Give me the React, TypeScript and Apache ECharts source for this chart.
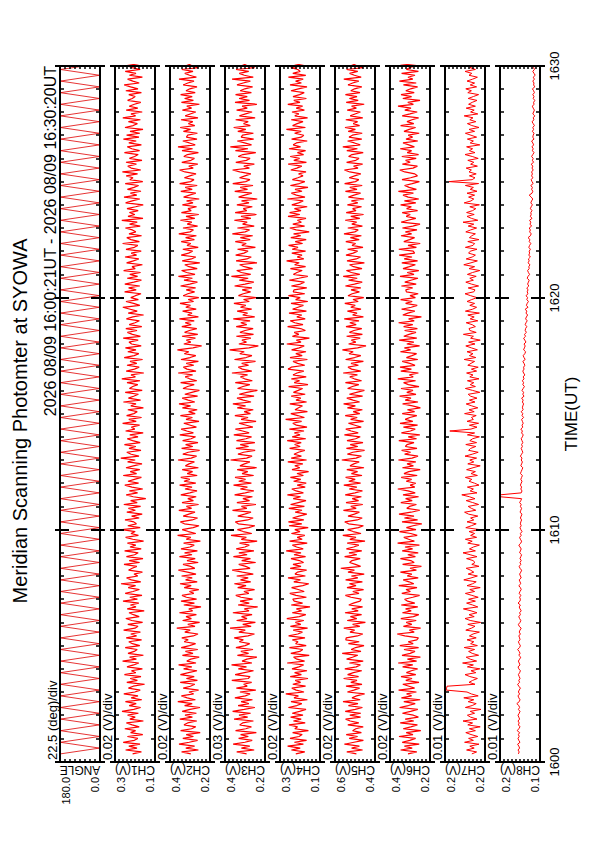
import React, { useEffect, useRef } from "react";
import * as echarts from "echarts";

const TITLE = "Meridian Scanning Photomter at SYOWA";
const PERIOD_TEXT = "2026 08/09 16:00:21UT - 2026 08/09 16:30:20UT";
const TIME_AXIS_NAME = "TIME(UT)";
const TIME_TICKS = [0, 10, 20, 30];
const TIME_LABELS = ["1600", "1610", "1620", "1630"];

const PANEL_NAMES = ["ANGLE", "CH1(V)", "CH2(V)", "CH3(V)", "CH4(V)", "CH5(V)", "CH6(V)", "CH7(V)", "CH8(V)"];
const DIV_TEXT = ["22.5 (deg)/div", "0.02 (V)/div", "0.02 (V)/div", "0.03 (V)/div", "0.02 (V)/div", "0.02 (V)/div", "0.02 (V)/div", "0.01 (V)/div", "0.01 (V)/div"];
const PANEL_MIN = [0, 100, 200, 150, 100, 400, 200, 150, 100];
const PANEL_MAX = [180, 300, 400, 450, 300, 600, 400, 250, 200];
const PANEL_DIV = [22.5, 20, 20, 30, 20, 20, 20, 10, 10];
const TOP_LABELS = ["180.0", "0.3", "0.4", "0.4", "0.3", "0.6", "0.4", "0.2", "0.2"];
const BOTTOM_LABELS = ["0.0", "0.1", "0.2", "0.2", "0.1", "0.4", "0.2", "0.2", "0.1"];

// scan angle (deg), one sample every 15 s from 16:00:21
const ANGLE_START_SEC = 21;
const ANGLE_STEP_SEC = 15;
const angleDeg = [
  178, 2, 178, 2, 178, 2, 178, 2, 178, 2, 178, 2, 178, 2, 178, 2, 178, 2, 178, 2,
  178, 2, 178, 2, 178, 2, 178, 2, 178, 2, 178, 2, 178, 2, 178, 2, 178, 2, 178, 2,
  178, 2, 178, 2, 178, 2, 178, 2, 178, 2, 178, 2, 178, 2, 178, 2, 178, 2, 178, 2,
  178, 2, 178, 2, 178, 2, 178, 2, 178, 2, 178, 2, 178, 2, 178, 2, 178, 2, 178, 2,
  178, 2, 178, 2, 178, 2, 178, 2, 178, 2, 178, 2, 178, 2, 178, 2, 178, 2, 178, 2,
  178, 2, 178, 2, 178, 2, 178, 2, 178, 2, 178, 2, 178, 2, 178, 2, 178, 2, 178, 2,
];

// channel voltages (mV), one sample every 5 s from 16:00:21
const CH_START_SEC = 21;
const CH_STEP_SEC = 5;
const ch1mV = [
  212,168,247,190,231,175,259,203,186,238,161,222,197,251,179,214,243,158,226,199,
  237,183,265,206,172,229,194,248,166,219,185,256,201,174,233,209,152,241,188,224,
  170,253,196,218,163,240,207,181,262,193,227,158,235,204,189,249,176,213,231,167,
  244,192,221,173,257,200,185,236,162,216,246,179,208,230,154,239,195,223,181,260,
  188,226,165,249,210,178,234,197,270,171,218,242,186,205,163,232,214,191,255,177,
  229,160,243,202,184,252,169,225,196,238,157,211,247,183,220,199,264,174,236,193,
  206,250,179,217,164,241,198,233,172,256,189,222,146,209,244,187,228,161,215,251,
  182,235,203,168,259,192,224,176,245,208,165,237,199,271,180,219,241,170,230,196,
  253,174,212,239,185,226,159,247,201,218,177,262,194,231,167,242,206,189,236,158,
  221,195,258,172,233,207,183,249,164,228,211,186,240,175,266,198,220,156,244,203,
  179,240,191,225,162,254,204,181,236,195,248,169,217,230,184,259,173,213,238,190,
  246,166,229,200,178,243,211,157,234,189,224,261,176,207,245,183,221,198,170,252,
  194,232,176,251,206,168,239,187,226,172,257,199,215,163,242,208,181,250,192,219,
  169,245,203,186,262,178,220,241,167,230,196,213,248,174,227,189,266,160,235,201,
  228,184,240,197,159,247,214,176,255,191,223,170,238,205,182,249,161,226,210,244,
  187,263,171,219,236,193,245,165,228,202,184,253,177,216,239,168,231,194,258,180,
  242,176,225,160,250,209,188,233,173,261,197,220,164,244,186,229,203,171,237,214,
  199,231,168,246,185,222,254,179,211,237,163,228,195,249,174,215,240,182,226,205,
];
const ch2mV = [
  296,342,258,321,277,355,304,262,336,283,319,249,347,292,271,330,312,266,351,288,
  325,268,339,300,250,327,289,361,273,314,343,282,305,257,334,298,276,349,263,318,
  279,348,307,265,332,291,357,270,316,296,254,338,285,323,261,344,302,272,329,309,
  341,284,260,326,299,366,275,311,252,337,293,320,268,353,287,306,245,331,278,345,
  267,318,340,281,303,256,329,294,350,264,322,289,342,270,313,358,276,297,335,259,
  315,274,353,290,327,263,345,300,279,332,248,319,296,362,271,308,339,284,255,328,
  348,289,262,334,306,275,356,292,318,257,340,283,311,269,346,301,265,325,290,352,
  271,330,301,346,264,314,287,339,258,323,305,278,360,294,267,336,309,252,342,286,
  322,260,337,295,272,351,283,316,344,268,298,331,255,320,288,348,274,307,264,338,
  297,355,276,309,339,262,326,291,253,335,312,279,347,266,302,324,287,359,270,315,
  333,281,319,258,345,299,271,328,306,363,285,242,331,296,318,273,340,261,327,303,
  266,341,294,324,279,353,258,312,290,337,269,321,298,350,282,309,256,334,311,277,
  319,272,347,301,263,330,288,358,275,317,342,264,305,326,251,339,293,271,344,307,
  287,336,259,315,296,344,278,322,268,356,300,283,335,262,314,291,348,276,320,256,
  343,294,310,267,338,285,317,254,332,303,271,346,289,324,264,352,297,280,328,301,
  270,325,352,284,306,261,341,295,278,331,313,258,340,287,360,274,303,336,265,318,
  312,263,333,297,349,276,308,286,345,260,324,299,271,338,292,316,253,343,283,327,
  289,347,274,320,301,265,334,311,280,355,268,302,326,285,341,259,317,294,336,275,
];
const ch3mV = [
  288,362,231,327,264,389,301,246,348,275,333,215,371,294,252,340,318,237,382,280,
  345,258,393,306,226,352,271,329,244,376,297,262,338,219,365,283,310,250,399,276,
  262,374,305,236,350,289,401,248,322,286,211,357,273,331,240,368,299,265,343,312,
  381,278,229,346,298,412,254,317,222,363,285,326,247,391,270,305,205,352,268,337,
  243,330,369,271,308,228,355,292,380,257,334,276,362,238,319,396,262,295,347,220,
  325,259,387,284,346,233,366,301,268,341,209,328,290,405,249,313,357,272,226,350,
  372,280,239,354,303,255,394,286,327,218,361,266,316,244,378,298,234,335,282,386,
  252,347,296,375,235,322,279,359,212,338,304,263,408,288,247,353,311,224,368,273,
  336,226,364,293,251,384,269,318,372,241,290,345,217,329,277,376,259,306,238,358,
  296,391,255,312,360,232,343,287,207,356,315,264,373,245,303,334,281,398,249,320,
  350,273,325,221,379,292,248,339,306,415,270,200,346,289,323,256,365,236,338,299,
  239,366,287,332,262,388,227,317,281,359,250,334,294,383,268,311,216,349,313,258,
  321,248,378,300,234,343,276,402,257,327,362,243,305,340,210,367,286,253,370,308,
  277,356,222,324,291,373,261,335,242,395,299,266,357,231,318,284,380,256,330,214,
  374,287,313,245,361,270,326,208,348,302,249,377,281,336,240,392,295,263,341,300,
  256,339,393,267,309,230,369,290,262,351,316,219,372,278,410,251,303,358,235,329,
  318,237,354,294,385,260,311,276,370,224,342,296,247,363,283,322,211,375,266,344,
  283,371,252,336,301,243,360,314,260,397,238,305,343,272,367,228,321,289,355,259,
];
const ch4mV = [
  221,176,243,199,262,183,228,167,250,205,189,237,158,226,212,255,174,233,194,247,
  185,239,202,170,258,216,191,245,163,230,208,271,180,219,241,172,236,197,224,160,
  249,193,227,165,240,206,182,264,177,215,232,154,246,201,186,253,169,222,210,238,
  175,257,211,188,234,162,248,196,223,181,266,204,171,239,192,218,150,244,187,229,
  236,168,220,251,179,209,242,186,156,231,198,260,173,225,213,167,249,195,235,182,
  203,245,172,230,195,269,184,217,238,164,252,189,214,176,243,200,226,159,255,191,
  258,181,237,205,166,224,190,256,178,247,209,170,234,197,263,183,219,241,174,214,
  169,232,196,248,183,215,157,240,201,226,186,261,167,244,193,230,208,176,252,199,
  227,194,264,171,239,200,228,180,253,165,218,236,192,272,178,211,246,163,225,207,
  188,251,167,220,196,244,174,233,209,187,257,160,229,202,243,169,235,215,181,260,
  244,176,212,235,163,250,189,221,170,242,204,179,266,195,218,153,238,206,229,173,
  197,262,185,226,249,174,216,191,255,168,237,210,183,245,161,222,199,258,176,234,
  230,166,243,198,178,253,206,161,233,215,189,248,172,227,204,267,181,214,190,241,
  172,239,210,257,187,224,169,246,196,232,154,219,251,177,236,193,213,170,260,201,
  252,195,228,164,241,207,184,263,175,218,243,190,225,160,248,203,176,238,211,185,
  207,170,246,216,191,259,168,231,202,249,182,213,172,255,197,234,218,164,242,194,
  181,227,194,268,173,237,214,185,244,162,226,206,240,178,219,187,261,200,231,168,
  235,202,179,245,208,165,250,193,222,184,258,171,236,199,211,246,180,227,189,216,
];
const ch5mV = [
  493,541,462,517,478,553,505,458,529,487,544,468,512,496,459,536,481,524,547,472,
  526,471,549,499,463,533,485,560,474,515,492,452,538,506,477,545,465,521,490,557,
  482,537,508,466,551,494,473,528,459,542,513,486,564,470,519,497,455,533,479,546,
  544,488,461,525,502,556,476,512,448,539,491,523,467,550,484,516,462,531,508,475,
  469,520,548,480,511,457,540,495,528,463,547,486,518,454,535,503,571,472,498,527,
  515,474,552,491,530,466,543,507,481,539,450,526,495,561,470,509,537,483,458,532,
  551,489,464,535,503,478,558,494,521,461,545,482,514,468,549,500,463,529,491,556,
  472,531,499,547,465,518,487,541,455,525,506,479,566,495,468,538,511,452,543,486,
  524,460,540,497,474,553,484,519,546,469,500,533,457,522,489,549,476,509,463,538,
  498,557,477,510,541,462,528,492,453,537,513,481,548,467,504,526,488,559,471,517,
  535,483,520,458,547,502,471,530,509,563,487,445,532,496,518,474,542,463,528,505,
  466,545,494,526,480,554,458,512,490,538,470,521,499,551,484,510,456,535,514,478,
  520,471,548,503,464,532,489,559,476,518,543,465,507,527,453,540,494,472,545,509,
  487,537,460,515,497,546,479,523,468,555,501,484,536,463,516,492,549,476,521,457,
  544,495,512,467,538,486,518,455,533,505,472,548,490,526,464,552,498,481,529,502,
  471,526,553,485,507,462,542,496,480,532,515,459,541,488,561,474,503,537,466,530,
  513,464,534,498,550,477,509,487,546,461,524,500,473,539,493,517,454,544,484,528,
  490,548,475,521,502,466,535,512,481,556,469,503,527,486,542,460,518,495,537,476,
];
const ch6mV = [
  310,266,347,289,328,254,339,301,272,355,285,319,246,334,296,263,349,281,324,258,
  283,338,297,261,352,308,274,331,249,343,292,317,268,357,277,305,336,255,321,290,
  345,271,318,293,262,337,286,359,267,313,248,340,299,275,330,257,351,284,309,266,
  258,326,364,279,303,247,333,291,319,269,346,283,256,338,294,322,261,344,276,312,
  327,286,252,341,298,320,265,356,281,305,334,259,314,291,348,268,300,243,337,279,
  296,348,273,311,259,339,287,325,253,362,278,307,331,264,296,353,270,318,285,241,
  340,262,328,280,355,295,251,316,302,268,346,289,322,257,335,274,310,361,276,299,
  271,319,292,344,264,330,306,249,338,283,315,271,358,290,260,327,297,342,265,323,
  315,280,356,267,309,251,343,298,274,333,262,350,286,324,301,266,339,277,313,248,
  288,337,260,324,295,352,270,316,285,345,255,308,332,272,361,284,303,258,346,293,
  350,275,301,339,261,318,290,267,348,297,328,252,316,281,354,266,331,305,270,327,
  263,332,286,357,279,307,243,336,311,276,342,294,264,322,289,347,273,300,259,318,
  321,287,343,269,326,296,260,350,280,314,256,335,303,273,341,262,329,290,354,277,
  284,356,268,310,249,331,302,277,345,292,323,265,338,286,250,344,311,271,319,299,
  339,262,317,293,347,271,328,256,309,335,283,358,268,304,327,289,253,340,297,263,
  276,326,351,285,263,338,299,322,269,341,257,314,292,349,278,306,335,261,320,287,
  309,254,330,304,272,347,281,315,290,257,339,300,264,326,295,360,283,311,250,336,
  292,345,279,321,297,262,333,269,353,286,310,275,342,258,318,301,267,348,282,314,
];
const ch7mV = [
  183,171,196,177,188,165,201,179,191,168,185,198,174,189,162,193,181,205,170,186,
  194,176,187,160,199,182,172,192,178,203,167,184,195,247,246,245,175,190,181,169,
  188,200,173,185,163,194,179,206,171,187,197,166,182,191,176,202,169,186,178,195,
  172,189,180,164,198,184,175,193,161,187,200,177,190,170,185,204,168,181,196,174,
  191,167,183,199,176,188,162,195,181,172,203,185,169,192,178,186,197,165,183,175,
  180,196,170,187,205,174,189,179,164,193,182,199,171,186,176,190,163,198,184,172,
  195,178,186,168,191,201,173,184,192,166,181,197,175,189,208,170,187,179,194,165,
  176,190,183,199,169,185,174,196,180,162,193,178,188,171,200,182,167,191,186,173,
  198,171,188,181,164,194,176,238,185,170,189,166,195,179,184,172,201,177,190,168,
  183,197,175,189,170,186,192,163,181,199,174,187,178,194,165,188,180,196,171,184,
  167,193,185,176,202,173,189,180,195,169,184,198,175,191,162,186,179,204,172,188,
  190,174,182,197,168,187,177,193,164,199,181,171,188,176,195,183,170,186,200,178,
  175,192,166,184,198,179,188,172,194,181,163,190,176,203,185,169,197,182,174,191,
  187,170,199,180,176,193,165,189,183,174,198,186,171,192,178,205,168,184,195,177,
  196,181,173,188,164,202,185,178,191,176,195,170,187,179,199,166,240,182,175,189,
  172,190,184,197,169,186,178,193,167,182,200,175,189,181,196,163,187,179,194,171,
  185,199,176,190,165,183,194,173,188,180,202,168,186,177,197,174,191,182,170,192,
  179,166,193,184,198,171,187,176,195,181,169,190,183,200,174,188,177,194,182,186,
];
const ch8mV = [
  154,152,155,151,153,156,150,153,155,152,154,151,157,153,150,154,152,155,151,153,
  155,152,150,154,151,153,158,152,150,153,155,151,154,152,149,153,156,151,153,150,
  152,154,151,149,153,155,150,152,154,151,148,153,150,152,156,151,149,152,154,150,
  151,153,149,152,150,147,152,154,150,148,151,153,149,151,147,150,152,149,155,150,
  149,151,148,152,150,147,149,153,148,150,152,147,149,151,148,146,150,152,148,150,
  147,150,148,146,151,149,147,150,153,148,146,149,151,147,149,145,148,150,147,149,
  148,146,149,147,145,150,148,146,149,147,151,148,146,200,199,147,145,148,146,149,
  147,145,148,146,144,149,147,145,143,148,146,144,147,145,149,146,143,145,147,144,
  146,143,145,147,144,142,146,144,148,143,145,142,144,146,141,145,143,147,142,144,
  143,141,144,142,146,140,143,141,145,142,139,143,141,144,140,142,138,141,143,140,
  141,138,140,143,137,140,142,138,136,141,139,137,140,135,138,141,136,139,134,137,
  136,133,137,135,132,136,134,131,135,133,137,130,134,132,129,133,131,135,130,132,
  130,133,128,131,129,127,132,130,126,129,131,127,128,125,130,127,129,124,128,126,
  127,124,128,126,123,127,125,130,124,122,126,124,127,121,125,123,126,120,124,122,
  123,120,124,122,119,123,121,118,122,127,120,118,121,119,123,117,120,122,118,121,
  119,121,117,120,118,122,116,119,117,121,118,115,119,117,120,116,118,121,115,118,
  117,115,119,116,118,114,117,120,115,117,113,118,116,114,117,119,115,116,113,117,
  115,118,114,116,119,113,116,115,118,114,117,112,115,118,114,116,113,117,115,116,
];

const CHANNELS = [ch1mV, ch2mV, ch3mV, ch4mV, ch5mV, ch6mV, ch7mV, ch8mV];

const FONT = "'Liberation Sans', Arial, Helvetica, sans-serif";
const RED = "#ff0000";

// layout (landscape frame, rotated onto the portrait page)
const PLOT_LEFT = 80;
const PLOT_WIDTH = 696;
const PANEL_TOP0 = 60;
const PANEL_STEP = 55;
const PANEL_H = 40;

function buildOption() {
  const n = PANEL_NAMES.length;
  const grids: any[] = [];
  const xAxes: any[] = [];
  const yAxes: any[] = [];
  const series: any[] = [];
  const graphics: any[] = [];

  for (let k = 0; k < n; k++) {
    const top = PANEL_TOP0 + PANEL_STEP * k;
    grids.push({
      left: PLOT_LEFT,
      top,
      width: PLOT_WIDTH,
      height: PANEL_H,
      show: true,
      borderColor: "#000",
      borderWidth: 2,
      backgroundColor: "transparent",
      z: 3,
    });
    const isLast = k === n - 1;
    const baseX = {
      gridIndex: k,
      type: "value",
      min: 0,
      max: 30,
      interval: 10,
      axisLine: { show: false, onZero: false },
      splitLine: { show: false },
      z: 4,
    };
    xAxes.push({
      ...baseX,
      position: "bottom",
      axisTick: { show: true, inside: true, length: 9, lineStyle: { color: "#000", width: 2 } },
      minorTick: { show: true, splitNumber: 10, length: 4, lineStyle: { color: "#000", width: 1.5 } },
      axisLabel: {
        show: isLast,
        margin: 8,
        fontSize: 13,
        fontFamily: FONT,
        color: "#000",
        formatter: (v: number) => {
          const i = TIME_TICKS.indexOf(Math.round(v));
          return i >= 0 ? TIME_LABELS[i] : "";
        },
      },
      name: isLast ? TIME_AXIS_NAME : "",
      nameLocation: "middle",
      nameGap: 23,
      nameMoveOverlap: false,
      nameTextStyle: { fontSize: 17, fontFamily: FONT, color: "#000" },
    });
    xAxes.push({
      ...baseX,
      position: "top",
      axisTick: { show: true, inside: true, length: 9, lineStyle: { color: "#000", width: 2 } },
      minorTick: { show: true, splitNumber: 10, length: 4, lineStyle: { color: "#000", width: 1.5 } },
      axisLabel: { show: false },
    });
    xAxes.push({
      ...baseX,
      position: "bottom",
      axisTick: { show: true, inside: false, length: 5, lineStyle: { color: "#000", width: 2 } },
      minorTick: { show: false },
      axisLabel: { show: false },
    });
    xAxes.push({
      ...baseX,
      position: "top",
      axisTick: { show: true, inside: false, length: 5, lineStyle: { color: "#000", width: 2 } },
      minorTick: { show: false },
      axisLabel: { show: false },
    });

    const mn = PANEL_MIN[k];
    const mx = PANEL_MAX[k];
    for (const pos of ["left", "right"]) {
      yAxes.push({
        gridIndex: k,
        type: "value",
        min: mn,
        max: mx,
        interval: PANEL_DIV[k],
        position: pos,
        axisLine: { show: false, onZero: false },
        splitLine: { show: false },
        axisTick: { show: true, inside: true, length: 3, lineStyle: { color: "#000", width: 1.5 } },
        axisLabel: { show: false },
        z: 4,
      });
    }

    let data: number[][];
    if (k === 0) {
      data = angleDeg.map((v, i) => [(ANGLE_START_SEC + ANGLE_STEP_SEC * i) / 60, v]);
    } else {
      data = CHANNELS[k - 1].map((v, i) => [(CH_START_SEC + CH_STEP_SEC * i) / 60, v]);
    }
    series.push({
      type: "line",
      xAxisIndex: k * 4,
      yAxisIndex: k * 2,
      data,
      symbol: "none",
      showSymbol: false,
      clip: true,
      silent: true,
      lineStyle: { color: k === 0 ? "#e00000" : RED, width: k === 0 ? 0.8 : k >= 7 ? 1 : 1.2 },
      z: 2,
    });

    graphics.push({
      type: "text",
      x: PLOT_LEFT + 2,
      y: top - 1,
      style: { text: DIV_TEXT[k], fontSize: 13, fontFamily: FONT, fill: "#000", align: "left", verticalAlign: "bottom" },
    });
    graphics.push({
      type: "text",
      x: PLOT_LEFT - 15,
      y: top,
      style: { text: TOP_LABELS[k], fontSize: 11, fontFamily: FONT, fill: "#000", align: "right", verticalAlign: "top" },
    });
    graphics.push({
      type: "text",
      x: PLOT_LEFT - 15,
      y: top + PANEL_H,
      style: { text: BOTTOM_LABELS[k], fontSize: 11, fontFamily: FONT, fill: "#000", align: "right", verticalAlign: "bottom" },
    });
    graphics.push({
      type: "text",
      x: PLOT_LEFT - 8,
      y: top + PANEL_H / 2,
      rotation: Math.PI / 2,
      style: { text: PANEL_NAMES[k], fontSize: 12, fontFamily: FONT, fill: "#000", align: "center", verticalAlign: "middle" },
    });
  }

  graphics.push({
    type: "text",
    x: PLOT_LEFT + PLOT_WIDTH,
    y: 58,
    style: { text: PERIOD_TEXT, fontSize: 16, fontFamily: FONT, fill: "#000", align: "right", verticalAlign: "bottom" },
  });

  return {
    animation: false,
    backgroundColor: "#fff",
    title: {
      text: TITLE,
      left: "center",
      top: 5,
      textStyle: { fontSize: 20, fontWeight: "normal", fontFamily: FONT, color: "#000" },
    },
    grid: grids,
    xAxis: xAxes,
    yAxis: yAxes,
    series,
    graphic: graphics,
  };
}

export default function App() {
  const ref = useRef<HTMLDivElement>(null);
  useEffect(() => {
    if (!ref.current) return;
    const chart = echarts.init(ref.current, null, { renderer: "svg" });
    chart.setOption(buildOption() as any);
    return () => chart.dispose();
  }, []);
  return (
    <div
      style={{
        position: "absolute",
        left: 0,
        top: 0,
        width: 595,
        height: 842,
        overflow: "hidden",
        background: "#fff",
      }}
    >
      <div
        ref={ref}
        style={{
          position: "absolute",
          left: 0,
          top: 0,
          width: 842,
          height: 595,
          transformOrigin: "0 0",
          transform: "translate(0px, 842px) rotate(-90deg)",
        }}
      />
    </div>
  );
}
